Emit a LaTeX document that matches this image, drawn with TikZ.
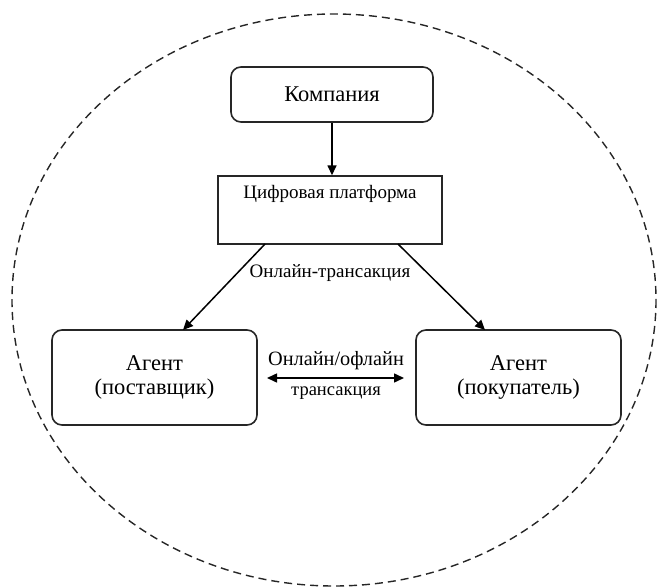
\documentclass[tikz,border=0pt]{standalone}
\usepackage{fontspec}
\setmainfont{Liberation Serif}
\usetikzlibrary{arrows.meta}
\begin{document}
\begin{tikzpicture}[x=1pt,y=-1pt,
  rbox/.style={draw=black!85, line width=1.6pt, rounded corners=10pt, inner sep=0pt, align=center, font=\fontsize{22.5}{24}\selectfont},
  sbox/.style={draw=black!85, line width=1.4pt, inner xsep=0pt, inner ysep=4pt, font=\fontsize{19}{22}\selectfont},
  conn/.style={line width=1.5pt, -{Triangle[length=10pt,width=9pt]}},
  lbl/.style={font=\fontsize{19}{22}\selectfont, inner sep=1pt}]
\useasboundingbox (0,0) rectangle (658,588);
\draw[dash pattern=on 8pt off 5pt, line width=1.4pt, black!85] (334,300) ellipse [x radius=322, y radius=286];
\node[rbox, minimum width=202pt, minimum height=55pt] (comp) at (332,94.5) {Компания};
\node[sbox, minimum width=224pt, text height=19pt, text depth=41pt] (plat) at (330,210) {Цифровая платформа};
\node[rbox, minimum width=205pt, minimum height=95pt] (sup) at (154.5,377.5) {Агент\\(поставщик)};
\node[rbox, minimum width=205pt, minimum height=95pt] (buy) at (518.5,377.5) {Агент\\(покупатель)};
\draw[conn] (comp.south) -- (comp.south |- plat.north);
\coordinate (pl) at (265,244);
\coordinate (pr) at (398,244);
\coordinate (sl) at (183,330);
\coordinate (br) at (485,330);
\draw[conn] (pl) -- (sl);
\draw[conn] (pr) -- (br);
\node[lbl] (onl) at (330,273) {Онлайн-трансакция};
\coordinate (a1) at (267,378);
\coordinate (a2) at (404,378);
\draw[line width=1.5pt, {Triangle[length=10pt,width=9pt]}-{Triangle[length=10pt,width=9pt]}] (a1) -- (a2);
\node[lbl, font=\fontsize{20.3}{23}\selectfont] (t1) at (336,361) {Онлайн/офлайн};
\node[lbl, font=\fontsize{18.5}{21}\selectfont] (t2) at (336,393) {трансакция};
\end{tikzpicture}
\end{document}
